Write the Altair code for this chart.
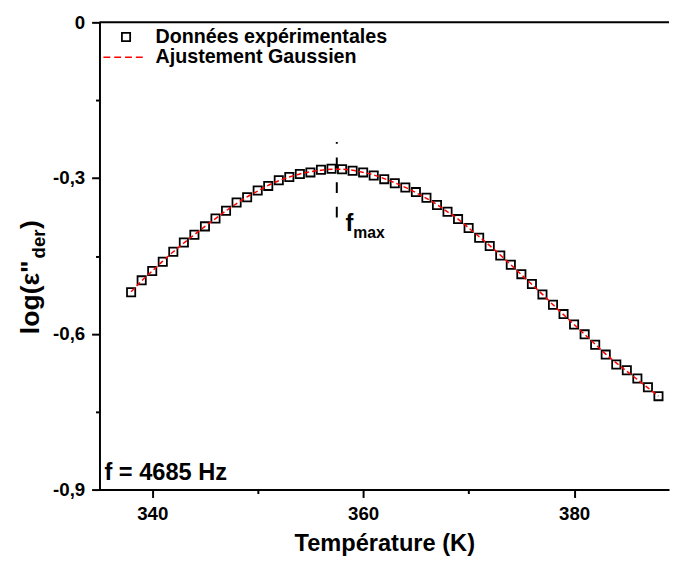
import altair as alt
import pandas as pd

# ---- data ----
temperature = list(range(338, 389))
log_eps_der = [-0.520, -0.497, -0.479, -0.461, -0.442, -0.424, -0.409, -0.393, -0.378, -0.363,
               -0.347, -0.337, -0.324, -0.315, -0.304, -0.298, -0.292, -0.289, -0.284, -0.282,
               -0.283, -0.286, -0.289, -0.295, -0.302, -0.310, -0.318, -0.327, -0.338, -0.352,
               -0.365, -0.379, -0.396, -0.415, -0.431, -0.449, -0.467, -0.485, -0.504, -0.524,
               -0.544, -0.562, -0.582, -0.601, -0.621, -0.640, -0.659, -0.670, -0.686, -0.703,
               -0.720]
gauss_fit = [-0.519, -0.498, -0.479, -0.460, -0.442, -0.425, -0.409, -0.393, -0.378, -0.363,
             -0.349, -0.336, -0.325, -0.314, -0.305, -0.298, -0.292, -0.288, -0.285, -0.283,
             -0.283, -0.285, -0.289, -0.294, -0.301, -0.309, -0.318, -0.328, -0.339, -0.351,
             -0.365, -0.379, -0.396, -0.413, -0.430, -0.448, -0.467, -0.486, -0.505, -0.524,
             -0.544, -0.563, -0.582, -0.601, -0.620, -0.639, -0.656, -0.672, -0.688, -0.704,
             -0.720]
x_ticks = [340, 350, 360, 370, 380]
y_ticks = [0, -0.15, -0.3, -0.45, -0.6, -0.75, -0.9]
fmax_T = 357.5
fmax_span = [-0.376, -0.2305]
legend_labels = ["Données expérimentales", "Ajustement Gaussien"]
freq_label = "f = 4685 Hz"

FONT = "Liberation Sans"

df = pd.DataFrame({"T": temperature, "y": log_eps_der, "fit": gauss_fit})
one = pd.DataFrame({"a": [0]})

xs = alt.Scale(domain=[335, 389], nice=False, zero=False)
ys = alt.Scale(domain=[-0.9, 0], nice=False, zero=False)

x_axis = alt.Axis(
    values=x_ticks,
    title="Température (K)",
    labelExpr="datum.value % 20 == 0 ? datum.label : ''",
    format="d",
    grid=False,
    domainColor="black", domainWidth=2,
    tickColor="black", tickWidth=2,
    tickSize={"condition": {"test": "datum.value % 20 == 0", "value": 8}, "value": 4},
    labelFont=FONT, labelFontSize=19, labelFontWeight="bold", labelColor="black",
    labelPadding=7,
    titleFont=FONT, titleFontSize=24, titleFontWeight="bold", titleColor="black",
    titlePadding=9,
)
y_axis = alt.Axis(
    values=y_ticks,
    title=None,
    labelExpr="datum.value == 0 ? '0' : (abs(datum.value*10 % 3) < 0.01 ? '-0,' + toString(round(abs(datum.value)*10)) : '')",
    grid=False,
    domainColor="black", domainWidth=2,
    tickColor="black", tickWidth=2,
    tickSize={"condition": {"test": "abs(datum.value*10 % 3) < 0.01", "value": 8}, "value": 4},
    labelFont=FONT, labelFontSize=19, labelFontWeight="bold", labelColor="black",
    labelPadding=7,
)

base = alt.Chart(df)
points = base.mark_point(shape="square", filled=False, color="black", size=70, strokeWidth=1.8, opacity=1).encode(
    x=alt.X("T:Q", scale=xs, axis=x_axis),
    y=alt.Y("y:Q", scale=ys, axis=y_axis),
)
fit_line = base.mark_line(color="#ff0000", strokeDash=[5, 3], strokeWidth=1.5, interpolate="monotone").encode(
    x=alt.X("T:Q", scale=xs), y=alt.Y("fit:Q", scale=ys)
)

top_rule = alt.Chart(one).mark_rule(color="black", strokeWidth=2).encode(y=alt.datum(0))

fmax_rule = alt.Chart(one).mark_rule(color="black", strokeWidth=2, strokeDash=[11, 14]).encode(
    x=alt.datum(fmax_T), y=alt.datum(fmax_span[0]), y2=alt.datum(fmax_span[1])
)
fmax_f = alt.Chart(one).mark_text(text="f", font=FONT, fontSize=24, fontWeight="bold", align="left",
                                  baseline="alphabetic", color="black").encode(
    x=alt.value(250), y=alt.value(212))
fmax_sub = alt.Chart(one).mark_text(text="max", font=FONT, fontSize=16, fontWeight="bold", align="left",
                                    baseline="alphabetic", color="black").encode(
    x=alt.value(258), y=alt.value(219))

leg_sq = alt.Chart(one).mark_point(shape="square", filled=False, color="black", size=70, strokeWidth=1.8, opacity=1).encode(
    x=alt.value(27), y=alt.value(15))
leg_t1 = alt.Chart(one).mark_text(text=legend_labels[0], font=FONT, fontSize=20, fontWeight="bold", align="left",
                                  baseline="middle", color="black").encode(x=alt.value(57), y=alt.value(14.5))
leg_dash = alt.Chart(one).mark_rule(color="#ff0000", strokeWidth=1.5, strokeDash=[7, 4]).encode(
    x=alt.value(4), x2=alt.value(47), y=alt.value(35.5))
leg_t2 = alt.Chart(one).mark_text(text=legend_labels[1], font=FONT, fontSize=20, fontWeight="bold", align="left",
                                  baseline="middle", color="black").encode(x=alt.value(57), y=alt.value(35.5))

freq_text = alt.Chart(one).mark_text(text=freq_label, font=FONT, fontSize=24, fontWeight="bold", align="left",
                                     baseline="alphabetic", color="black").encode(x=alt.value(5), y=alt.value(465))

yt1 = alt.Chart(one).mark_text(text='log(ε"', font=FONT, fontSize=27, fontWeight="bold", align="left",
                               baseline="alphabetic", angle=270, color="black").encode(x=alt.value(-61), y=alt.value(317))
yt2 = alt.Chart(one).mark_text(text="der", font=FONT, fontSize=19, fontWeight="bold", align="left",
                               baseline="alphabetic", angle=270, color="black").encode(x=alt.value(-55), y=alt.value(240))
yt3 = alt.Chart(one).mark_text(text=")", font=FONT, fontSize=27, fontWeight="bold", align="left",
                               baseline="alphabetic", angle=270, color="black").encode(x=alt.value(-61), y=alt.value(210))

chart = alt.layer(
    points, fit_line, top_rule, fmax_rule, fmax_f, fmax_sub,
    leg_sq, leg_t1, leg_dash, leg_t2, freq_text, yt1, yt2, yt3
).properties(
    width=579, height=475,
    padding={"left": 10, "top": 1, "right": 0, "bottom": 0},
    background="white",
).configure_view(stroke=None)

chart.save("out.html", embed_options={"renderer": "svg", "actions": False})
